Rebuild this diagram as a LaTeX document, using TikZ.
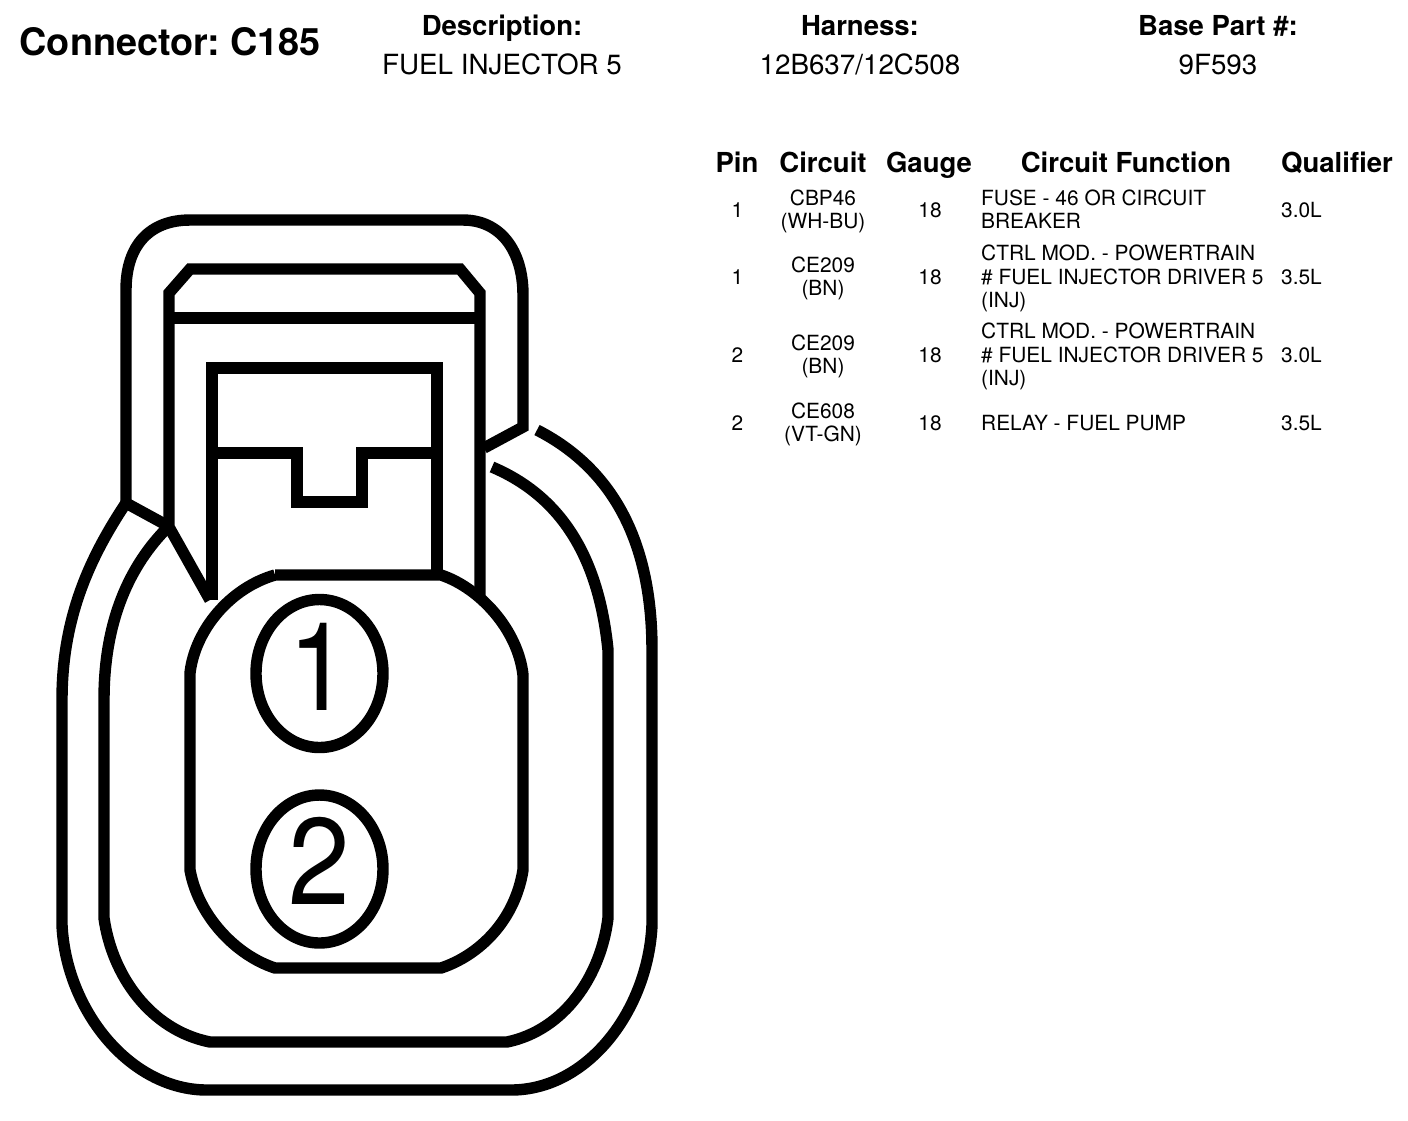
\documentclass[tikz,border=0pt]{standalone}
\usepackage{fontspec}
\setmainfont{TeX Gyre Heros}
\usepackage{tikz}

\tikzset{
  wall/.style={line width=3.25pt,miter limit=4},
  title/.style={inner sep=0,execute at begin node=\strut,yshift=-1.42pt,font=\fontsize{10.75pt}{12pt}\selectfont\bfseries},
  head/.style={inner sep=0,execute at begin node=\strut,yshift=-1pt,font=\fontsize{7.83pt}{9pt}\selectfont\bfseries},
  info/.style={inner sep=0,execute at begin node=\strut,yshift=-1pt,font=\fontsize{7.9pt}{9pt}\selectfont},
  cell/.style={inner sep=0,align=center,execute at begin node=\strut,execute at end node=\strut,yshift=-0.79pt,font=\fontsize{5.94pt}{6.75pt}\selectfont},
  func/.style={cell,align=left,anchor=west},
  digit/.style={inner sep=0,font=\fontsize{35pt}{36pt}\selectfont}
}

\begin{document}
\frenchspacing
\begin{tikzpicture}[x=0.01cm,y=-0.01cm]
  \useasboundingbox (0,0) rectangle (1408,1120);
  % heading
  \node[title,anchor=west] (conn) at (19,42) {Connector: C185};
  \node[head] (desc) at (502,26) {Description:};
  \node[info] (descval) at (502,65) {FUEL INJECTOR 5};
  \node[head] (harn) at (860,26) {Harness:};
  \node[info] (harnval) at (860,65) {12B637/12C508};
  \node[head] (base) at (1218,26) {Base Part \#:};
  \node[info] (baseval) at (1218,65) {9F593};
  % table
  \node[head] (hpin) at (737,163) {Pin};
  \node[head] (hcirc) at (823,163) {Circuit};
  \node[head] (hgauge) at (929,163) {Gauge};
  \node[head] (hfunc) at (1126,163) {Circuit Function};
  \node[head] (hqual) at (1337,163) {Qualifier};
  \foreach \r/\y/\pin/\wire/\fn/\qual in {
      a/210/1/{CBP46\\(WH-BU)}/{FUSE - 46 OR CIRCUIT\\BREAKER}/3.0L,
      b/277/1/{CE209\\(BN)}/{CTRL MOD. - POWERTRAIN\\\# FUEL INJECTOR DRIVER 5\\(INJ)}/3.5L,
      c/355/2/{CE209\\(BN)}/{CTRL MOD. - POWERTRAIN\\\# FUEL INJECTOR DRIVER 5\\(INJ)}/3.0L,
      d/423/2/{CE608\\(VT-GN)}/{RELAY - FUEL PUMP}/3.5L}
  {
    \node[cell] (pin\r) at (737.5,\y) {\pin};
    \node[cell] (wire\r) at (823,\y) {\wire};
    \node[cell] (gauge\r) at (930,\y) {18};
    \node[func] (fn\r) at (980.5,\y) {\fn};
    \node[func] (qual\r) at (1280.5,\y) {\qual};
  }
  % hood
  \draw[wall] (170,527)--(126,503)--(126,290)
      ..controls (126,245) and (150,220) .. (190,220)--(463,220)
      ..controls (500,220) and (523,250) .. (523,295)--(523,427)--(484,448);
  % latch body
  \draw[wall] (210,600)--(169,527)--(169,293)--(190,269)--(460,269)--(480,293)--(480,597);
  \draw[wall] (169,318)--(480,318);
  \draw[wall] (212,600)--(212,368)--(437,368)--(437,575);
  \draw[wall] (212,453)--(297,453)--(297,502)--(362,502)--(362,453)--(437,453);
  % outer shell
  \draw[wall] (126,503) ..controls (88,560) and (62,620) .. (62,700)--(62,925)
      ..controls (66,1010) and (130,1090) .. (207,1090)--(511,1090)
      ..controls (588,1090) and (648,1010) .. (652,925)--(652,650)
      ..controls (652,560) and (625,475) .. (537,430);
  \draw[wall] (168,527) ..controls (130,565) and (104,620) .. (104,700)--(104,918)
      ..controls (112,975) and (150,1030) .. (210,1042)--(507,1042)
      ..controls (565,1030) and (601,975) .. (608,918)--(608,650)
      ..controls (600,570) and (570,500) .. (492,467);
  % pin face
  \draw[wall] (275,575)--(441,575)
      ..controls (480,588) and (518,630) .. (523,675)--(523,870)
      ..controls (515,920) and (480,955) .. (441,968)--(275,968)
      ..controls (235,955) and (198,915) .. (190,870)--(190,673)
      ..controls (195,630) and (230,588) .. (275,575);
  \draw[wall] (319.5,673.5) ellipse (63.5 and 74);
  \draw[wall] (319.5,869) ellipse (63.5 and 74);
  \node[digit] (one) at (319,667) {\scalebox{0.9}[1]{1}};
  \node[digit] (two) at (319,861) {\scalebox{0.9}[1]{2}};
\end{tikzpicture}
\end{document}
